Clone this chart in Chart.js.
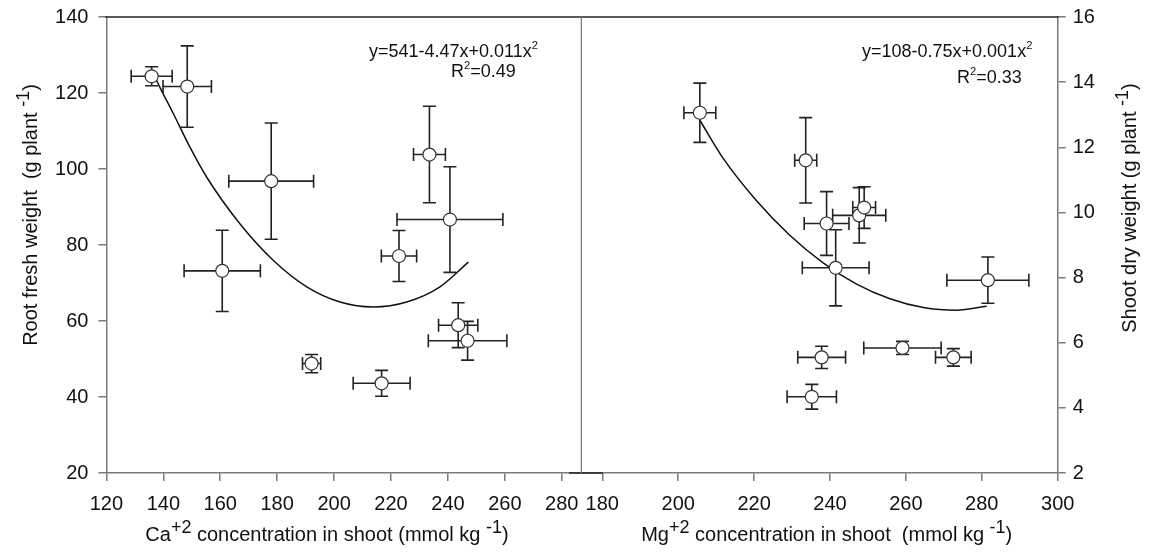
<!DOCTYPE html>
<html><head><meta charset="utf-8">
<script src="https://cdn.jsdelivr.net/npm/chart.js@4.4.0/dist/chart.umd.min.js"></script>
<style>
html,body{margin:0;padding:0;background:#fff;}
#wrap{position:relative;width:1152px;height:554px;overflow:hidden;background:#fff;}
#c1{position:absolute;left:0;top:0;}
#c2{position:absolute;left:582px;top:0;}
</style></head><body>
<div id="wrap"><canvas id="c1" width="582" height="554"></canvas><canvas id="c2" width="570" height="554"></canvas></div>
<script>
// ---- Left panel: Ca+2 vs root fresh weight ----
const caConc      = [135.9, 148.4, 177.9, 160.7, 233.5, 240.7, 222.8, 243.6, 246.9, 192.1, 216.7];
const rootFresh   = [124.4, 121.7, 96.8, 73.2, 103.8, 86.7, 77.1, 58.9, 54.8, 48.8, 43.6];
const caConcErr   = [7.2, 8.5, 14.9, 13.4, 5.6, 18.6, 6.2, 6.9, 13.8, 3.2, 10.0];
const rootFreshErr= [2.5, 10.7, 15.3, 10.7, 12.7, 13.9, 6.7, 5.9, 5.1, 2.4, 3.4];
const caFitX      = [136.5, 138.8, 143.5, 149.3, 155.2, 166.9, 178.6, 190.4, 202.1, 213.8, 225.5, 237.2, 247.2];
const caFitY      = [125.1, 121.5, 114.6, 105.8, 97.9, 85.6, 76.0, 69.0, 65.0, 63.7, 65.0, 69.0, 75.5];
const caTicksX    = [120, 140, 160, 180, 200, 220, 240, 260, 280];
const rootTicksY  = [20, 40, 60, 80, 100, 120, 140];

// ---- Right panel: Mg+2 vs shoot dry weight ----
const mgConc      = [205.7, 233.6, 239.1, 247.7, 249.0, 241.5, 281.6, 237.8, 259.1, 272.5, 235.2];
const shootDry    = [13.06, 11.6, 9.66, 9.91, 10.15, 8.3, 7.92, 5.55, 5.84, 5.55, 4.34];
const mgConcErr   = [4.2, 2.9, 5.9, 7.0, 3.0, 8.8, 10.8, 6.3, 10.2, 4.7, 6.5];
const shootDryErr = [0.91, 1.31, 0.98, 0.85, 0.64, 1.17, 0.71, 0.34, 0.2, 0.27, 0.38];
const mgFitX      = [205.7, 211.9, 220.7, 229.4, 238.2, 247.0, 255.8, 264.6, 273.4, 281.3];
const mgFitY      = [12.83, 11.65, 10.35, 9.3, 8.45, 7.8, 7.35, 7.08, 7.0, 7.12];
const mgTicksX    = [180, 200, 220, 240, 260, 280, 300];
const shootTicksY = [2, 4, 6, 8, 10, 12, 14, 16];

const FONT = "'Liberation Sans', Arial, sans-serif";
const AXIS = '#7a7a7a';
const INK = '#111';
Chart.defaults.font.family = FONT;

function richWidth(ctx, segs, size){
  let w = 0;
  for (const s of segs){ ctx.font = (s.sup ? size*s.sup : size) + 'px ' + FONT; w += ctx.measureText(s.t).width; }
  return w;
}
function drawRich(ctx, segs, x, y, size, align){
  const w = richWidth(ctx, segs, size);
  let cx = align === 'center' ? x - w/2 : x;
  ctx.fillStyle = INK; ctx.textBaseline = 'alphabetic'; ctx.textAlign = 'left';
  for (const s of segs){
    const fs = s.sup ? size*s.sup : size;
    ctx.font = fs + 'px ' + FONT;
    ctx.fillText(s.t, cx, s.sup ? y - size*s.rise : y);
    cx += ctx.measureText(s.t).width;
  }
}

function errorBarPlugin(xs, ys, xe, ye){
  return {
    id: 'errbars',
    beforeDatasetsDraw(chart){
      const ctx = chart.ctx, sx = chart.scales.x, sy = chart.scales.y, cap = 6.5;
      ctx.save(); ctx.strokeStyle = '#222'; ctx.lineWidth = 1.6;
      for (let i = 0; i < xs.length; i++){
        const px = sx.getPixelForValue(xs[i]), py = sy.getPixelForValue(ys[i]);
        const x0 = sx.getPixelForValue(xs[i]-xe[i]), x1 = sx.getPixelForValue(xs[i]+xe[i]);
        const y0 = sy.getPixelForValue(ys[i]-ye[i]), y1 = sy.getPixelForValue(ys[i]+ye[i]);
        ctx.beginPath();
        ctx.moveTo(x0, py); ctx.lineTo(x1, py);
        ctx.moveTo(x0, py-cap); ctx.lineTo(x0, py+cap);
        ctx.moveTo(x1, py-cap); ctx.lineTo(x1, py+cap);
        ctx.moveTo(px, y0); ctx.lineTo(px, y1);
        ctx.moveTo(px-cap, y0); ctx.lineTo(px+cap, y0);
        ctx.moveTo(px-cap, y1); ctx.lineTo(px+cap, y1);
        ctx.stroke();
      }
      ctx.restore();
    }
  };
}

function ticksFrom(arr){ return function(scale){ scale.ticks = arr.map(v => ({value: v})); }; }

function makeScales(o){
  return {
    x: {
      type: 'linear', min: o.xmin, max: o.xmax,
      afterBuildTicks: ticksFrom(o.xticks),
      afterFit(s){ s.height = 81; s.paddingLeft = 0; s.paddingRight = 0; },
      ticks: { font: {size: 20, family: FONT, lineHeight: 2.1}, color: INK, padding: 2, maxRotation: 0, autoSkip: false },
      grid: { drawOnChartArea: false, drawTicks: true, tickLength: 8, color: AXIS, lineWidth: 1.5 },
      border: { display: true, color: AXIS, width: 1.5 }
    },
    y: {
      type: 'linear', position: o.ypos, min: o.ymin, max: o.ymax,
      afterBuildTicks: ticksFrom(o.yticks),
      afterFit(s){ s.width = o.ywidth; s.paddingTop = 0; s.paddingBottom = 0; },
      ticks: { font: {size: 20, family: FONT}, color: INK, padding: o.ypad, autoSkip: false },
      grid: { drawOnChartArea: false, drawTicks: true, tickLength: 8, color: AXIS, lineWidth: 1.5 },
      border: { display: true, color: AXIS, width: 1.5 }
    }
  };
}

const titlesLeft = {
  x: [{t:'Ca'},{t:'+2',sup:0.9,rise:0.42},{t:' concentration in shoot (mmol kg '},{t:'-1',sup:0.9,rise:0.42},{t:')'}],
  y: [{t:'Root fresh weight  (g plant '},{t:'-1',sup:0.9,rise:0.42},{t:')'}],
  eq: [{t:'y=541-4.47x+0.011x'},{t:'2',sup:0.62,rise:0.45}],
  r2: [{t:'R'},{t:'2',sup:0.62,rise:0.45},{t:'=0.49'}]
};
const titlesRight = {
  x: [{t:'Mg'},{t:'+2',sup:0.9,rise:0.42},{t:' concentration in shoot  (mmol kg '},{t:'-1',sup:0.9,rise:0.42},{t:')'}],
  y: [{t:'Shoot dry weight (g plant '},{t:'-1',sup:0.9,rise:0.42},{t:')'}],
  eq: [{t:'y=108-0.75x+0.001x'},{t:'2',sup:0.62,rise:0.45}],
  r2: [{t:'R'},{t:'2',sup:0.62,rise:0.45},{t:'=0.33'}]
};

function decorPlugin(side, T){
  return {
    id: 'decor',
    afterDraw(chart){
      const ctx = chart.ctx, a = chart.chartArea;
      ctx.save();
      // top frame line
      ctx.strokeStyle = '#222'; ctx.lineWidth = 1.5;
      ctx.beginPath(); ctx.moveTo(a.left - 1, a.top); ctx.lineTo(a.right + 1, a.top); ctx.stroke();
      if (side === 'left'){
        // short dark segment on the base line next to the divider
        ctx.strokeStyle = '#222'; ctx.lineWidth = 1.5;
        ctx.beginPath(); ctx.moveTo(a.right - 13, a.bottom); ctx.lineTo(a.right, a.bottom); ctx.stroke();
        // divider between panels
        ctx.strokeStyle = AXIS; ctx.lineWidth = 1.5;
        ctx.beginPath(); ctx.moveTo(a.right - 0.5, a.top); ctx.lineTo(a.right - 0.5, a.bottom); ctx.stroke();
        drawRich(ctx, T.x, 327, 541, 20, 'center');
        ctx.save(); ctx.translate(37, 215); ctx.rotate(-Math.PI/2);
        drawRich(ctx, T.y, 0, 0, 20, 'center'); ctx.restore();
        drawRich(ctx, T.eq, 369, 57, 18, 'left');
        drawRich(ctx, T.r2, 451, 77, 18, 'left');
      } else {
        ctx.strokeStyle = '#222'; ctx.lineWidth = 1.5;
        ctx.beginPath(); ctx.moveTo(a.left, a.bottom); ctx.lineTo(a.left + 21, a.bottom); ctx.stroke();
        drawRich(ctx, T.x, 826.7 - 582, 541, 20, 'center');
        ctx.save(); ctx.translate(1136 - 582, 208); ctx.rotate(-Math.PI/2);
        drawRich(ctx, T.y, 0, 0, 20, 'center'); ctx.restore();
        drawRich(ctx, T.eq, 862 - 582, 57, 18, 'left');
        drawRich(ctx, T.r2, 957 - 582, 83, 18, 'left');
      }
      ctx.restore();
    }
  };
}

function pts(xs, ys){ return xs.map((x, i) => ({x: x, y: ys[i]})); }

const common = { responsive: false, animation: false, events: [],
  plugins: { legend: {display: false}, tooltip: {enabled: false} } };

new Chart(document.getElementById('c1'), {
  type: 'scatter',
  data: { datasets: [
    { label: 'Root fresh weight', data: pts(caConc, rootFresh), pointRadius: 6.5, pointBackgroundColor: '#fff',
      pointBorderColor: '#333', pointBorderWidth: 1.2, showLine: false },
    { label: 'fit', type: 'line', data: pts(caFitX, caFitY), borderColor: INK, borderWidth: 1.5,
      pointRadius: 0, cubicInterpolationMode: 'monotone', fill: false }
  ]},
  options: Object.assign({}, common, {
    layout: { autoPadding: false, padding: { top: 17, left: 0, right: 0, bottom: 0 } },
    scales: makeScales({ xmin: 120, xmax: 287.1, xticks: caTicksX, ymin: 20, ymax: 140, yticks: rootTicksY,
      ypos: 'left', ywidth: 106.4, ypad: 10 })
  }),
  plugins: [errorBarPlugin(caConc, rootFresh, caConcErr, rootFreshErr), decorPlugin('left', titlesLeft)]
});

new Chart(document.getElementById('c2'), {
  type: 'scatter',
  data: { datasets: [
    { label: 'Shoot dry weight', data: pts(mgConc, shootDry), pointRadius: 6.5, pointBackgroundColor: '#fff',
      pointBorderColor: '#333', pointBorderWidth: 1.2, showLine: false },
    { label: 'fit', type: 'line', data: pts(mgFitX, mgFitY), borderColor: INK, borderWidth: 1.5,
      pointRadius: 0, cubicInterpolationMode: 'monotone', fill: false }
  ]},
  options: Object.assign({}, common, {
    layout: { autoPadding: false, padding: { top: 17, left: 0, right: 0, bottom: 0 } },
    scales: makeScales({ xmin: 174.65, xmax: 300, xticks: mgTicksX, ymin: 2, ymax: 16, yticks: shootTicksY,
      ypos: 'right', ywidth: 94.3, ypad: 7 })
  }),
  plugins: [errorBarPlugin(mgConc, shootDry, mgConcErr, shootDryErr), decorPlugin('right', titlesRight)]
});
</script>
</body></html>
